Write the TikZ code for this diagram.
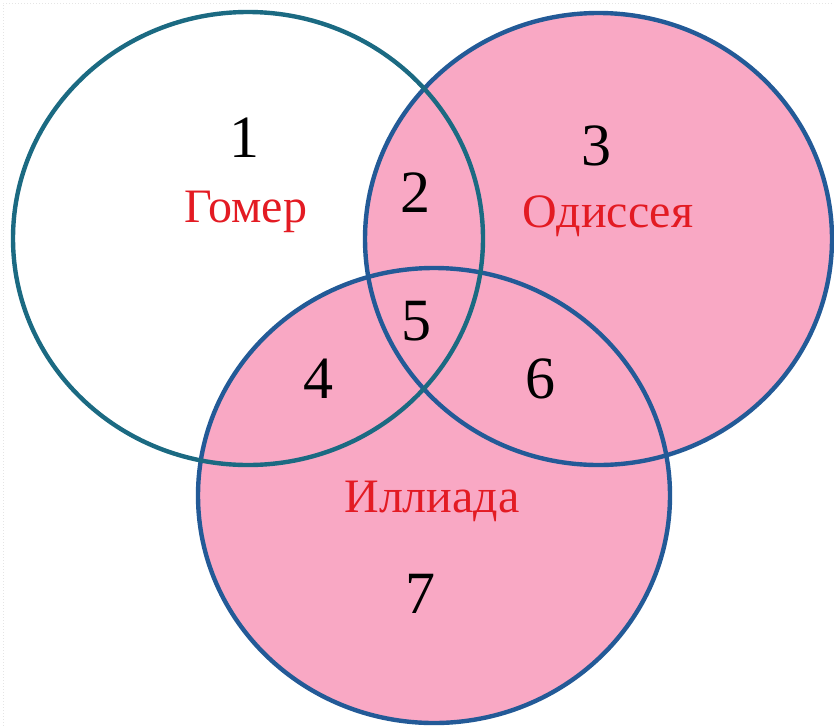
\documentclass[tikz,border=0pt]{standalone}
\usepackage{fontspec}
\setmainfont{Liberation Serif}
\definecolor{pinkfill}{HTML}{F9A8C4}
\definecolor{tealline}{HTML}{1B6A82}
\definecolor{blueline}{HTML}{235A97}
\definecolor{redtext}{HTML}{E31B23}
\begin{document}
\begin{tikzpicture}[x=1pt,y=-1pt,
  ring/.style={line width=4.4pt},
  num/.style={anchor=base,inner sep=0pt,font=\fontsize{60}{62}\selectfont},
  lbl/.style={anchor=base,inner sep=0pt,text=redtext,font=\fontsize{48}{50}\selectfont}]
\useasboundingbox (0,0) rectangle (834,726);
\draw[black!10,dotted,line width=1pt] (3,726) -- (3,3) -- (834,3);
% fills
\fill[pinkfill] (598.5,239) ellipse [x radius=233.5,y radius=226];
\fill[pinkfill] (434,495.5) ellipse [x radius=236,y radius=227.5];
% outlines
\draw[ring,blueline] (434,495.5) ellipse [x radius=236,y radius=227.5];
\draw[ring,blueline] (598.5,239) ellipse [x radius=233.5,y radius=226];
\draw[ring,tealline] (248,238.5) ellipse [x radius=235,y radius=226.5];
% labels
\node[num] (n1) at (244,157) {1};
\node[num] (n2) at (415,212) {2};
\node[num] (n3) at (596,165) {3};
\node[num] (n4) at (318,398) {4};
\node[num] (n5) at (416,340) {5};
\node[num] (n6) at (540,398) {6};
\node[num] (n7) at (420,613) {7};
\node[lbl] (gomer) at (246,222) {Гомер};
\node[lbl] (odis) at (608,227) {Одиссея};
\node[lbl] (iliad) at (432,512) {Иллиада};
\end{tikzpicture}
\end{document}
